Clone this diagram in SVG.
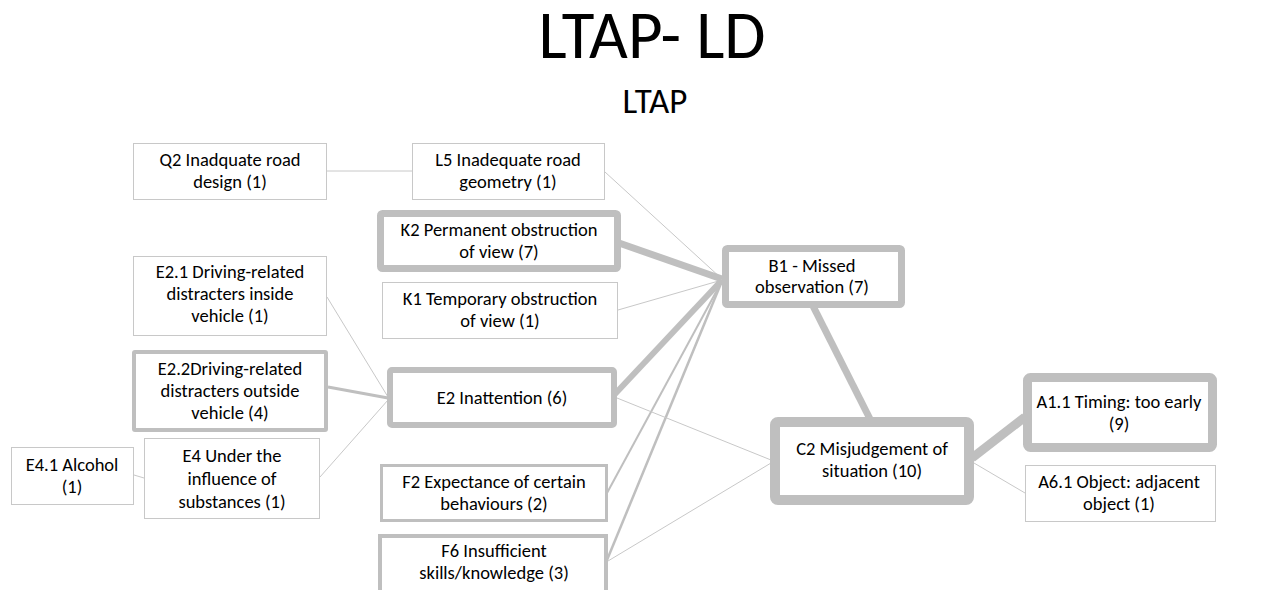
<svg xmlns="http://www.w3.org/2000/svg" width="1264" height="590" viewBox="0 0 1264 590">
  <style>
    .bg { fill: #ffffff; }
    .box { fill: #ffffff; stroke: #c8c8c8; stroke-width: 1; }
    .thick { fill: #ffffff; stroke: #bfbfbf; }
    .lbl { font-family: Carlito, "Open Sans", sans-serif; font-size: 18.5px; fill: #000000; text-anchor: middle; }
    .title { font-family: Carlito, "Open Sans", sans-serif; fill: #000000; text-anchor: middle; }
    .edge { stroke: #c8c8c8; stroke-width: 1; fill: none; }
    .edge-w { stroke: #bfbfbf; fill: none; }
  </style>
  <rect class="bg" x="0" y="0" width="1264" height="590"/>

  <text class="title" x="652" y="58" font-size="67">LTAP- LD</text>
  <text class="title" x="655" y="113" font-size="35">LTAP</text>

  <!-- links between factors -->
  <g id="connectors">
    <line class="edge" x1="327" y1="171" x2="412" y2="171"/>
    <line class="edge" x1="605" y1="172" x2="722" y2="279"/>
    <line class="edge-w" stroke-width="7" x1="619" y1="243" x2="722" y2="279"/>
    <line class="edge" x1="618" y1="310" x2="722" y2="280"/>
    <line class="edge-w" stroke-width="6" x1="615" y1="394" x2="722" y2="280"/>
    <line class="edge-w" stroke-width="2" x1="607" y1="493" x2="722" y2="281"/>
    <line class="edge-w" stroke-width="2.5" x1="607" y1="560" x2="722" y2="281"/>
    <line class="edge" x1="617" y1="398" x2="771" y2="460"/>
    <line class="edge" x1="608" y1="561" x2="771" y2="463"/>
    <line class="edge-w" stroke-width="7" x1="813" y1="306" x2="870" y2="419"/>
    <line class="edge-w" stroke-width="9" x1="972" y1="458" x2="1025" y2="417"/>
    <line class="edge" x1="974" y1="463" x2="1025" y2="493"/>
    <line class="edge" x1="327" y1="297" x2="388" y2="397"/>
    <line class="edge-w" stroke-width="3" x1="328" y1="387" x2="388" y2="398"/>
    <line class="edge" x1="320" y1="477" x2="388" y2="400"/>
    <line class="edge" x1="134" y1="475" x2="144" y2="478"/>
  </g>

  <g id="Q2">
    <rect class="box" x="133.5" y="143.5" width="193" height="56"/>
    <text class="lbl" x="230" y="166">Q2 Inadquate road</text>
    <text class="lbl" x="230" y="188">design (1)</text>
  </g>
  <g id="L5">
    <rect class="box" x="412.5" y="143.5" width="192" height="56"/>
    <text class="lbl" x="508" y="166">L5 Inadequate road</text>
    <text class="lbl" x="508" y="188">geometry (1)</text>
  </g>
  <g id="K2">
    <rect class="thick" stroke-width="7" rx="2" x="380.5" y="213.5" width="237" height="55"/>
    <text class="lbl" x="499" y="236">K2 Permanent obstruction</text>
    <text class="lbl" x="499" y="258">of view (7)</text>
  </g>
  <g id="K1">
    <rect class="box" x="382.5" y="282.5" width="235" height="56"/>
    <text class="lbl" x="500" y="305">K1 Temporary obstruction</text>
    <text class="lbl" x="500" y="327">of view (1)</text>
  </g>
  <g id="E2-1">
    <rect class="box" x="133.5" y="256.5" width="193" height="79"/>
    <text class="lbl" x="230" y="278">E2.1 Driving-related</text>
    <text class="lbl" x="230" y="300">distracters inside</text>
    <text class="lbl" x="230" y="322">vehicle (1)</text>
  </g>
  <g id="E2-2">
    <rect class="thick" stroke-width="4" rx="1" x="134" y="352" width="192" height="78"/>
    <text class="lbl" x="230" y="375">E2.2Driving-related</text>
    <text class="lbl" x="230" y="397">distracters outside</text>
    <text class="lbl" x="230" y="419">vehicle (4)</text>
  </g>
  <g id="E4-1">
    <rect class="box" x="11.5" y="447.5" width="122" height="57"/>
    <text class="lbl" x="72" y="471">E4.1 Alcohol</text>
    <text class="lbl" x="72" y="493">(1)</text>
  </g>
  <g id="E4">
    <rect class="box" x="144.5" y="438.5" width="175" height="80"/>
    <text class="lbl" x="232" y="462">E4 Under the</text>
    <text class="lbl" x="232" y="485">influence of</text>
    <text class="lbl" x="232" y="508">substances (1)</text>
  </g>
  <g id="E2">
    <rect class="thick" stroke-width="6" rx="2" x="390" y="370" width="224" height="55"/>
    <text class="lbl" x="502" y="404">E2 Inattention (6)</text>
  </g>
  <g id="F2">
    <rect class="thick" stroke-width="3" x="381.5" y="465.5" width="225" height="55"/>
    <text class="lbl" x="494" y="488">F2 Expectance of certain</text>
    <text class="lbl" x="494" y="510">behaviours (2)</text>
  </g>
  <g id="F6">
    <rect class="thick" stroke-width="4" x="380" y="536" width="226" height="62"/>
    <text class="lbl" x="494" y="557">F6 Insufficient</text>
    <text class="lbl" x="494" y="579">skills/knowledge (3)</text>
  </g>
  <g id="B1">
    <rect class="thick" stroke-width="7" rx="2" x="725.5" y="248.5" width="176" height="56"/>
    <text class="lbl" x="812" y="272">B1 - Missed</text>
    <text class="lbl" x="812" y="293">observation (7)</text>
  </g>
  <g id="C2">
    <rect class="thick" stroke-width="10" rx="3" x="775" y="422" width="194" height="78"/>
    <text class="lbl" x="872" y="455">C2 Misjudgement of</text>
    <text class="lbl" x="872" y="477">situation (10)</text>
  </g>
  <g id="A1-1">
    <rect class="thick" stroke-width="9" rx="3" x="1027.5" y="377.5" width="185" height="70"/>
    <text class="lbl" x="1119" y="408">A1.1 Timing: too early</text>
    <text class="lbl" x="1119" y="430">(9)</text>
  </g>
  <g id="A6-1">
    <rect class="box" x="1025.5" y="465.5" width="190" height="56"/>
    <text class="lbl" x="1119" y="488">A6.1 Object: adjacent</text>
    <text class="lbl" x="1119" y="510">object (1)</text>
  </g>
</svg>
